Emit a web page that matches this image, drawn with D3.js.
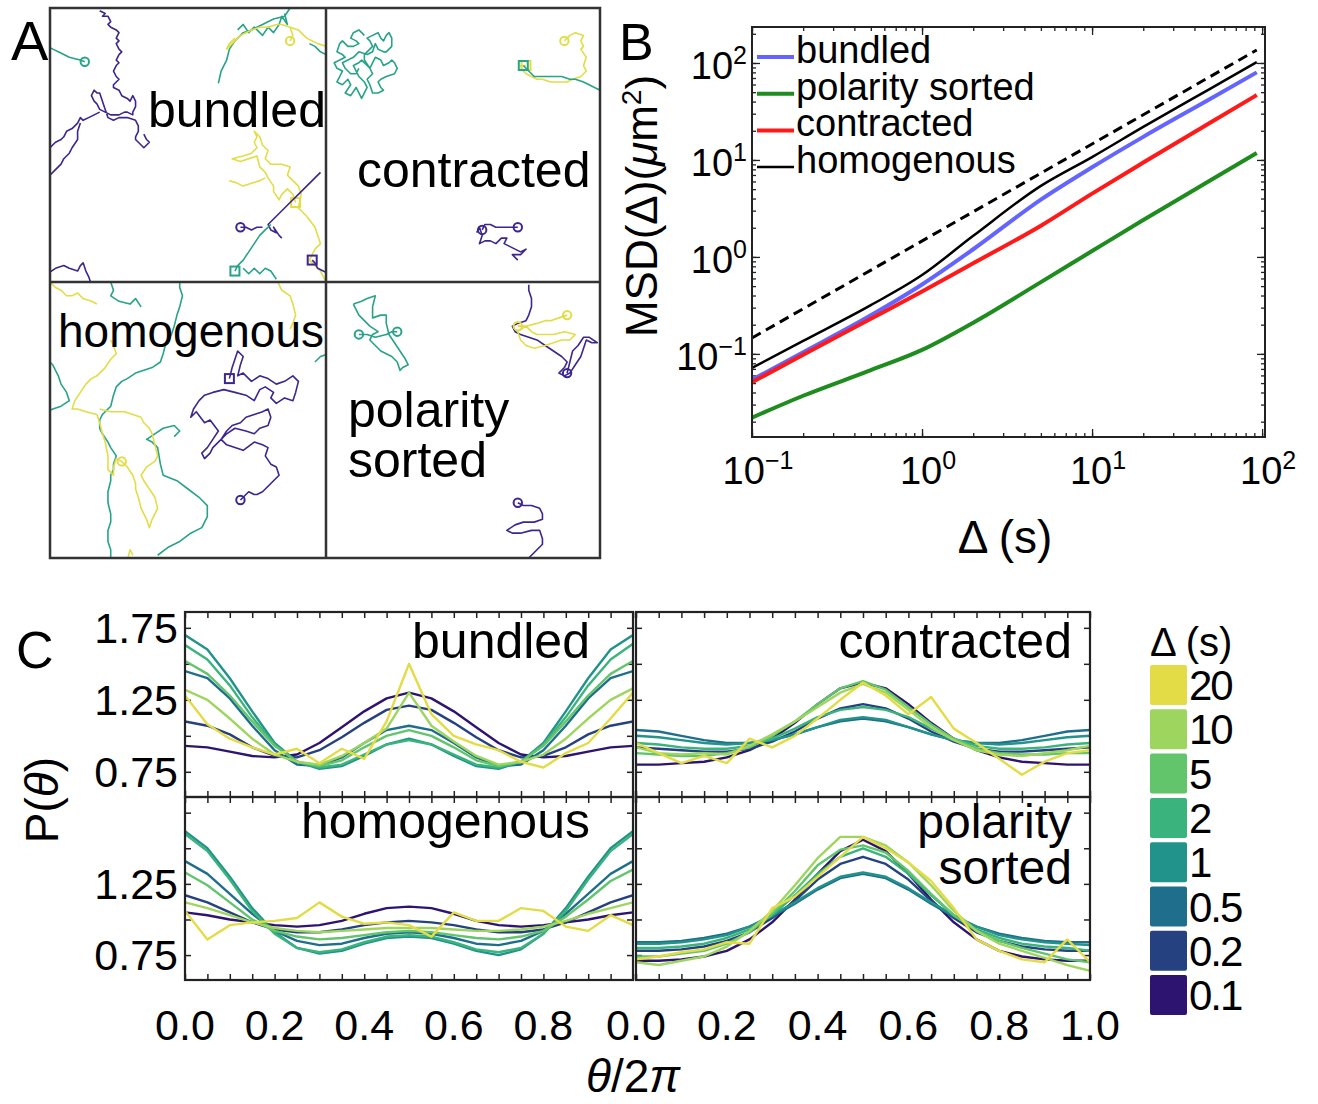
<!DOCTYPE html>
<html>
<head>
<meta charset="utf-8">
<script src="https://cdn.jsdelivr.net/npm/d3@7"></script>
<style>
body { margin: 0; background: #fff; }
text { font-family: "Liberation Sans", Arial, sans-serif; fill: #000; }
</style>
</head>
<body>
<script>
// ---------- panel A : trajectories (box units 0..100, y down) ----------
// g: 0 = short lag, 1 = mid, 2 = long ; start/end = marker at that end
const bundledTracks = [
  {g: 0, pts: [[18,1],[20,2],[19,3],[21,3],[22,5],[21,6],[22,7],[24,8],[25,9],[24,11],[25,12],[24,13],[25,15],[26,16],[25,17],[24,19],[25,20],[24,21],[23,23],[24,25],[25,26],[23,28],[23,29],[25,30],[26,32],[28,33],[29,34],[30,32],[31,34],[31,36],[30,38],[30,39],[28,38],[27,38],[25,39],[22,39],[20,38],[18,37],[17,35],[16,34],[15,32],[16,30],[17,31],[18,31],[19,34],[20,37],[21,40],[23,41],[25,40],[28,40],[31,41],[32,43],[32,45],[31,47],[31,48],[33,50],[34,51],[36,49],[35,48],[34,46]]},
  {g: 0, pts: [[18,38],[16,39],[14,40],[12,41],[11,40],[10,42],[9,43],[8,44],[6,45],[5,47],[4,48],[2,49],[0,51]]},
  {g: 0, pts: [[-1,62],[2,59],[4,57],[5,55],[7,53],[8,51],[10,48],[10,45],[11,42]]},
  {g: 0, pts: [[-1,97],[2,95],[5,94],[7,95],[10,96],[11,94],[12,93],[13,96],[14,98],[15,101]]},
  {g: 1, start: 'o', pts: [[12.6,19.6],[11,19],[9,18.5],[7,18],[5,17],[3,16],[1,15],[-1,14]]},
  {g: 1, pts: [[61,27.5],[62,23],[64,19],[65,15],[67,12],[70,9],[73,8],[77,6],[81,4],[85,3],[87,0],[88,-2]]},
  {g: 1, pts: [[68,8],[70,6],[72,9],[74,7],[77,10],[79,7],[81,9],[83,6],[84,3],[86,6],[85,2]]},
  {g: 1, pts: [[94,13],[96,14],[98,16],[100,17],[102,18]]},
  {g: 2, start: 'o', pts: [[87,12],[88,10],[87,7],[84,6],[82,6],[79,7],[76,7],[73,8],[71,9],[69,10],[67,12],[65,14],[64,15],[65,13],[67,11]]},
  {g: 2, pts: [[87,7],[90,8],[91,9],[93,11],[95,12],[97,13],[100,14],[102,15]]},
  {g: 2, start: 's', pts: [[89,71],[88,68],[86,66],[84,68],[83,70],[81,67],[81,65],[79,62],[78,60],[76,58],[75,54],[72,55],[69,56],[66,55],[70,54],[73,53],[75,51],[74,49],[75,47],[74,45],[76,47],[77,50],[79,52],[78,55],[80,57],[84,57],[87,58],[86,61],[88,63],[90,65],[91,68],[90,73],[93,76],[96,80],[97,83],[98,86],[96,88],[94,92],[96,94],[98,96],[100,100]]},
  {g: 2, pts: [[65,63],[68,64],[70,65],[73,64],[76,63],[78,62]]},
  {g: 0, start: 'o', pts: [[69,80],[71,80],[73,81],[75,80],[77,80]]},
  {g: 0, pts: [[98,60],[96,62],[93,65],[90,68],[87,71],[84,74],[81,77],[79,79],[80,81],[82,82],[81,80],[83,83],[84,84]]},
  {g: 0, start: 's', pts: [[95,92],[96,93],[97,95],[99,96],[101,97]]},
  {g: 1, start: 's', pts: [[67,96],[68,94],[70,92],[72,89],[74,86],[76,83],[78,81],[80,79]]},
  {g: 1, pts: [[70,95],[72,97],[74,95],[76,97],[78,95],[80,96],[82,99]]}
];

const contractedTracks = [
  {g: 1, pts: [[14,10],[12,8],[10,9],[9,11],[11,12],[12,13],[10,14],[8,14],[6,12],[5,13],[4,16],[6,17],[7,18],[5,19],[3,20],[4,22],[6,23],[5,25],[4,27],[6,28],[8,26],[9,28],[7,31],[9,32],[11,29],[12,31],[13,33],[14,31],[15,29],[14,27],[12,25],[11,23],[10,21],[12,20],[13,19],[15,21],[16,22],[17,20],[18,18],[20,19],[21,21],[23,20],[24,19],[25,20],[26,22],[25,24],[22,25],[20,26],[19,27],[20,29],[21,30],[19,31],[17,31],[16,28],[15,26],[17,24],[16,22],[14,19],[14,17],[16,15],[17,14],[16,12],[15,11],[17,10],[19,9],[20,11],[21,12],[22,10],[23,9],[24,11],[24,14],[22,16],[21,16],[19,15],[18,13],[17,16],[15,17],[12,16],[11,17],[10,18],[8,19],[6,20],[7,22],[9,24],[11,24],[12,22]]},
  {g: 2, start: 'o', end: 's', pts: [[87,12],[89,10],[91,9],[94,10],[93,12],[94,14],[93,15],[95,18],[94,21],[95,23],[93,25],[90,26],[88,27],[85,27],[82,27],[79,26],[77,26],[75,25],[73,24],[72,23],[71,21],[73,21]]},
  {g: 1, start: 's', pts: [[72,21],[74,23],[76,25],[79,25],[83,25],[86,25],[89,26],[91,26],[94,27],[96,28],[98,29],[100,30],[102,31]]},
  {g: 0, start: 'o', end: 'o', pts: [[57,81],[58,79],[60,79],[62,80],[64,80],[66,80],[68,80],[70,80]]},
  {g: 0, pts: [[55,82],[56,80],[57,83],[56,86],[58,85],[60,85],[62,86],[64,84],[66,84],[65,86],[67,87],[69,88],[71,89],[73,88],[71,90],[68,90],[70,92]]}
];

const homogenousTracks = [
  {g: 1, pts: [[47,-1],[47,2],[48,5],[47,9],[46,12],[45,16],[44,19],[42,22],[41,26],[40,29],[37,31],[34,32],[31,33],[28,35],[26,36],[24,38],[23,41],[22,45],[20,47],[19,48],[18,50],[18,53],[19,55],[21,58],[22,60],[24,63],[23,66],[23,68],[22,70],[22,72],[21,76],[21,80],[22,84],[22,87],[21,90],[21,94],[22,97],[22,101]]},
  {g: 1, pts: [[39,99],[43,96],[47,94],[51,91],[55,89],[57,85],[57,81],[54,78],[50,75],[46,72],[41,70],[40,66],[39,60],[37,58],[35,57],[38,55],[41,53],[45,52],[47,54],[45,56]]},
  {g: 1, pts: [[-1,28],[1,30],[3,34],[4,37],[6,40],[7,43],[4,45],[1,46],[-1,47]]},
  {g: 1, pts: [[22,0],[23,3],[22,5],[25,7],[29,8],[31,6],[33,9]]},
  {g: 1, pts: [[96,29],[98,27],[101,26]]},
  {g: 0, start: 's', end: 'o', pts: [[65,35],[66,31],[67,28],[68,25],[70,27],[69,30],[68,34],[70,33],[73,36],[76,34],[79,35],[82,37],[85,36],[88,34],[90,36],[89,40],[88,43],[85,42],[82,44],[80,42],[81,40],[78,38],[76,39],[75,41],[74,43],[71,41],[67,40],[63,39],[59,40],[56,41],[54,43],[52,46],[51,49],[53,47],[56,51],[58,50],[61,54],[59,57],[57,60],[55,62],[56,64],[58,62],[59,60],[62,57],[64,54],[66,52],[69,51],[71,49],[74,48],[77,47],[79,46],[80,49],[79,52],[76,53],[74,55],[71,54],[67,53],[64,55],[62,57],[64,59],[67,60],[70,61],[74,58],[77,59],[79,60],[78,63],[80,66],[82,67],[83,70],[81,72],[79,74],[77,76],[75,77],[74,77],[72,76],[70,78],[69,79]]},
  {g: 2, start: 'o', pts: [[26,65],[24,64],[23,67],[23,70],[21,68],[21,63],[20,58],[19,55],[18,51],[17,48],[13,47],[10,46],[8,46],[9,43],[11,40],[13,37],[15,35],[17,34],[20,31],[22,28],[24,26],[23,23],[22,21]]},
  {g: 2, pts: [[26,65],[28,67],[30,70],[31,73],[31,75],[32,78],[33,82],[35,86],[36,89],[37,86],[39,82],[38,78],[36,75],[34,72],[33,70],[35,67],[38,65],[39,63],[38,59],[37,55],[36,53],[34,51],[33,49],[30,48],[27,47],[25,47],[22,47],[18,46]]},
  {g: 2, pts: [[0,0],[2,2],[4,3],[6,5],[8,5],[10,4],[12,6],[15,7],[17,8]]},
  {g: 2, pts: [[82,-1],[84,3],[87,5],[88,8],[89,12],[88,15],[87,17]]},
  {g: 2, pts: [[28,101],[29,97],[30,99]]}
];

const sortedTracks = [
  {g: 1, start: 'o', end: 'o', pts: [[12,19],[15,19],[18,20],[22,19],[24,18],[26,18]]},
  {g: 1, pts: [[10,8],[13,7],[15,6],[18,5],[17,9],[17,13],[20,12],[22,12],[22,15],[23,19],[25,22],[27,25],[29,28],[30,30],[28,31],[27,32],[26,29],[24,27],[22,26],[20,25],[18,23],[16,21],[17,19],[19,18],[16,16],[14,14],[12,12],[11,10],[10,8]]},
  {g: 0, end: 'o', pts: [[74,1],[74,3],[75,6],[75,9],[74,12],[73,14],[70,15],[68,16],[69,18],[71,19],[74,20],[77,21],[80,23],[83,25],[86,27],[88,29],[87,31],[85,33],[87,34],[89,33],[91,30],[93,27],[94,24],[95,21],[97,22],[99,22],[96,20],[94,20],[92,23],[90,25],[89,29],[88,33]]},
  {g: 2, start: 'o', end: 'o', pts: [[70,16],[73,16],[75,18],[77,19],[80,19],[83,19],[87,18],[91,19],[89,21],[86,21],[83,22],[80,23],[76,24],[73,23],[71,21],[70,18],[73,16],[77,15],[80,14],[82,14],[85,13],[88,12]]},
  {g: 0, start: 'o', pts: [[70,80],[72,81],[75,81],[78,82],[79,84],[79,86],[76,87],[72,87],[69,88],[66,90],[68,91],[71,91],[75,90],[78,90],[79,93],[79,95],[77,97],[76,98],[74,100],[74,102]]}
];

// ---------- panel B : MSD ----------
const msdDelta      = [0.1, 0.2, 0.5, 1, 2, 5, 10, 20, 50, 93];
const msdBundled    = [0.054, 0.104, 0.25, 0.52, 1.2, 3.9, 8.4, 17.3, 43, 80];
const msdSorted     = [0.022, 0.037, 0.068, 0.11, 0.21, 0.55, 1.15, 2.4, 6.2, 11.8];
const msdContracted = [0.051, 0.098, 0.23, 0.44, 0.86, 2.1, 4.5, 9.4, 24.5, 46.7];
const msdHomogenous = [0.0716, 0.136, 0.318, 0.65, 1.65, 5.4, 10.7, 21.9, 54.8, 102];
const refDelta = [0.1, 93];
const refMsd   = [0.146, 136];
const msdTicks = [0.1, 1, 10, 100];
const msdTickExp = ['\u22121', '0', '1', '2'];
const msdLegend = ['bundled', 'polarity sorted', 'contracted', 'homogenous'];

// ---------- panel C : angle distributions ----------
const thetaBins = [0, 0.05, 0.1, 0.15, 0.2, 0.25, 0.3, 0.35, 0.4, 0.45, 0.5, 0.55, 0.6, 0.65, 0.7, 0.75, 0.8, 0.85, 0.9, 0.95, 1];
const deltaLevels = ['0.1', '0.2', '0.5', '1', '2', '5', '10', '20'];
const pBundled = [
  [0.93,0.92,0.89,0.86,0.85,0.87,0.95,1.06,1.17,1.26,1.30,1.26,1.17,1.06,0.95,0.87,0.85,0.86,0.89,0.92,0.93],
  [1.10,1.07,1.01,0.92,0.86,0.85,0.90,0.99,1.09,1.18,1.21,1.18,1.09,0.99,0.90,0.85,0.86,0.92,1.01,1.07,1.10],
  [1.45,1.40,1.26,1.07,0.90,0.80,0.79,0.85,0.95,1.04,1.07,1.04,0.95,0.85,0.79,0.80,0.90,1.07,1.26,1.40,1.45],
  [1.70,1.60,1.40,1.17,0.95,0.82,0.77,0.79,0.86,0.94,0.98,0.94,0.86,0.79,0.77,0.82,0.95,1.17,1.40,1.60,1.70],
  [1.63,1.53,1.35,1.13,0.94,0.82,0.78,0.80,0.87,0.94,0.97,0.94,0.87,0.80,0.78,0.82,0.94,1.13,1.35,1.53,1.64],
  [1.52,1.43,1.28,1.10,0.93,0.82,0.79,0.83,0.92,1.00,1.04,1.00,0.92,0.83,0.79,0.82,0.93,1.10,1.28,1.43,1.52],
  [1.32,1.25,1.12,0.98,0.87,0.82,0.80,0.86,0.95,1.05,1.30,1.07,0.96,0.86,0.80,0.82,0.87,0.98,1.12,1.25,1.33],
  [1.28,1.08,0.98,0.92,0.87,0.91,0.81,0.91,0.84,1.10,1.50,1.15,1.00,0.94,0.90,0.82,0.78,0.88,0.95,1.12,1.30]
];
const pContracted = [
  [0.80,0.80,0.81,0.82,0.85,0.90,0.98,1.09,1.22,1.33,1.37,1.33,1.22,1.09,0.98,0.90,0.85,0.82,0.81,0.80,0.80],
  [0.92,0.91,0.90,0.89,0.89,0.91,0.96,1.03,1.12,1.19,1.22,1.19,1.12,1.03,0.96,0.91,0.89,0.89,0.90,0.91,0.92],
  [1.04,1.03,1.00,0.97,0.95,0.95,0.97,1.01,1.06,1.10,1.12,1.10,1.06,1.01,0.97,0.95,0.95,0.97,1.00,1.03,1.04],
  [1.00,0.99,0.97,0.95,0.94,0.95,0.97,1.01,1.06,1.11,1.13,1.11,1.06,1.01,0.97,0.95,0.94,0.95,0.97,0.99,1.00],
  [0.95,0.94,0.92,0.91,0.91,0.93,0.98,1.05,1.13,1.18,1.20,1.18,1.13,1.05,0.98,0.93,0.91,0.91,0.92,0.94,0.95],
  [0.88,0.87,0.86,0.86,0.88,0.92,1.00,1.10,1.22,1.33,1.38,1.32,1.20,1.08,0.98,0.91,0.88,0.87,0.87,0.88,0.88],
  [0.92,0.88,0.87,0.88,0.87,0.93,1.01,1.10,1.20,1.30,1.36,1.30,1.18,1.06,0.97,0.90,0.87,0.86,0.88,0.90,0.93],
  [0.95,0.88,0.81,0.86,0.81,0.98,0.92,1.00,1.12,1.25,1.37,1.28,1.15,1.27,1.05,0.95,0.84,0.73,0.82,0.88,0.90]
];
const pHomogenous = [
  [1.05,1.03,1.00,0.98,0.96,0.95,0.96,0.99,1.04,1.08,1.09,1.08,1.04,0.99,0.96,0.95,0.96,0.98,1.00,1.03,1.05],
  [1.17,1.12,1.05,0.98,0.93,0.91,0.91,0.93,0.96,0.98,0.99,0.98,0.96,0.93,0.91,0.91,0.93,0.98,1.05,1.12,1.17],
  [1.41,1.32,1.18,1.04,0.92,0.85,0.82,0.83,0.87,0.90,0.91,0.90,0.87,0.83,0.82,0.85,0.92,1.04,1.18,1.32,1.41],
  [1.62,1.50,1.30,1.08,0.91,0.80,0.76,0.78,0.83,0.87,0.88,0.87,0.83,0.78,0.75,0.79,0.90,1.08,1.30,1.50,1.62],
  [1.60,1.48,1.28,1.06,0.90,0.80,0.77,0.79,0.84,0.88,0.89,0.88,0.84,0.79,0.77,0.80,0.90,1.06,1.28,1.48,1.60],
  [1.33,1.24,1.12,1.00,0.92,0.88,0.86,0.87,0.89,0.91,0.92,0.91,0.89,0.87,0.86,0.88,0.92,1.02,1.14,1.27,1.35],
  [1.12,1.08,1.03,0.98,0.94,0.92,0.91,0.92,0.93,0.94,0.94,0.94,0.93,0.92,0.92,0.93,0.95,0.99,1.04,1.08,1.12],
  [1.06,0.86,0.96,0.98,0.99,1.01,1.12,1.02,0.97,0.98,0.96,0.88,1.05,0.99,0.99,1.08,1.06,0.95,0.92,1.03,0.96]
];
const pSorted = [
  [0.71,0.71,0.72,0.74,0.78,0.86,0.98,1.14,1.32,1.48,1.56,1.48,1.32,1.14,0.98,0.86,0.78,0.74,0.72,0.71,0.71],
  [0.78,0.78,0.79,0.81,0.85,0.91,1.01,1.13,1.28,1.39,1.44,1.39,1.28,1.13,1.01,0.91,0.85,0.81,0.79,0.78,0.78],
  [0.84,0.84,0.85,0.87,0.90,0.95,1.02,1.11,1.21,1.29,1.32,1.29,1.21,1.11,1.02,0.95,0.90,0.87,0.85,0.84,0.84],
  [0.83,0.83,0.84,0.86,0.89,0.95,1.03,1.12,1.22,1.30,1.33,1.30,1.22,1.12,1.03,0.95,0.89,0.86,0.84,0.83,0.82],
  [0.80,0.80,0.81,0.83,0.87,0.93,1.03,1.17,1.32,1.44,1.50,1.44,1.32,1.17,1.03,0.93,0.87,0.83,0.81,0.80,0.78],
  [0.74,0.74,0.76,0.78,0.83,0.91,1.04,1.20,1.38,1.49,1.52,1.47,1.34,1.18,1.03,0.92,0.85,0.80,0.76,0.72,0.70],
  [0.70,0.68,0.71,0.74,0.81,0.92,1.06,1.24,1.43,1.58,1.58,1.52,1.40,1.24,1.06,0.92,0.83,0.78,0.73,0.68,0.64],
  [0.72,0.74,0.77,0.79,0.84,0.83,1.08,1.16,1.30,1.44,1.58,1.50,1.40,1.27,1.08,0.86,0.78,0.72,0.70,0.86,0.70]
];
const thetaTickLabels = ['0.0', '0.2', '0.4', '0.6', '0.8', '1.0'];
const pTickValues = [0.75, 1.25, 1.75];

// ---------- styles ----------
const trackColors = ['#3c2690', '#27a387', '#e2dd47'];
const deltaColors = ['#2d1470', '#25417f', '#1f6e8c', '#22938a', '#3ab37c', '#62c46b', '#9ed55f', '#e4dc46'];
const msdColors = {bundled: '#6464ff', sorted: '#1e8c1e', contracted: '#ff1a1a', homogenous: '#000'};

const svg = d3.select('body').append('svg')
    .attr('width', 1318)
    .attr('height', 1104)
    .style('background', '#fff');

const defs = svg.append('defs');

// ================= PANEL A =================
const aBoxes = [
  {tracks: bundledTracks, x: [50, 326], y: [8, 282]},
  {tracks: contractedTracks, x: [326, 600], y: [8, 282]},
  {tracks: homogenousTracks, x: [50, 326], y: [282, 558]},
  {tracks: sortedTracks, x: [326, 600], y: [282, 558]}
];

aBoxes.forEach(function (box, i) {
    var sx = d3.scaleLinear().domain([0, 100]).range(box.x),
        sy = d3.scaleLinear().domain([0, 100]).range(box.y);

    defs.append('clipPath').attr('id', 'clipA' + i)
        .append('rect')
        .attr('x', box.x[0]).attr('y', box.y[0])
        .attr('width', box.x[1] - box.x[0]).attr('height', box.y[1] - box.y[0]);

    var g = svg.append('g').attr('clip-path', 'url(#clipA' + i + ')');
    var line = d3.line().x(d => sx(d[0])).y(d => sy(d[1]));

    box.tracks.forEach(function (t) {
        var col = trackColors[t.g];
        g.append('path')
            .attr('d', line(t.pts))
            .attr('fill', 'none')
            .attr('stroke', col)
            .attr('stroke-width', 1.6)
            .attr('stroke-linejoin', 'round');

        [['start', t.pts[0]], ['end', t.pts[t.pts.length - 1]]].forEach(function (m) {
            var kind = t[m[0]];
            if (!kind) return;
            var cx = sx(m[1][0]), cy = sy(m[1][1]);
            if (kind === 'o') {
                g.append('circle').attr('cx', cx).attr('cy', cy).attr('r', 4.2)
                    .attr('fill', 'none').attr('stroke', col).attr('stroke-width', 2);
            } else {
                g.append('rect').attr('x', cx - 4.5).attr('y', cy - 4.5)
                    .attr('width', 9).attr('height', 9)
                    .attr('fill', 'none').attr('stroke', col).attr('stroke-width', 2);
            }
        });
    });
});

// frame of panel A
svg.append('rect').attr('x', 50).attr('y', 8).attr('width', 550).attr('height', 550)
    .attr('fill', 'none').attr('stroke', '#333').attr('stroke-width', 2.5);
svg.append('line').attr('x1', 326).attr('x2', 326).attr('y1', 8).attr('y2', 558)
    .attr('stroke', '#333').attr('stroke-width', 2.5);
svg.append('line').attr('x1', 50).attr('x2', 600).attr('y1', 282).attr('y2', 282)
    .attr('stroke', '#333').attr('stroke-width', 2.5);

function label(x, y, str, size, anchor) {
    return svg.append('text').attr('x', x).attr('y', y)
        .attr('text-anchor', anchor || 'start')
        .style('font-size', size + 'px')
        .text(str);
}

label(148, 127, 'bundled', 50);
label(357, 187, 'contracted', 50);
label(58, 347, 'homogenous', 46);
label(348, 427, 'polarity', 50);
label(348, 477, 'sorted', 50);

label(11, 60, 'A', 56);
label(619, 60, 'B', 52);
label(16, 668, 'C', 52);

// ================= PANEL B =================
const bx = d3.scaleLog().domain([0.1, 104]).range([752, 1265]);
const by = d3.scaleLog().domain([0.0139, 235]).range([437, 27]);

defs.append('clipPath').attr('id', 'clipB')
    .append('rect').attr('x', 752).attr('y', 27).attr('width', 513).attr('height', 410);

var gB = svg.append('g');
var minorX = [], minorY = [];
[0.1, 1, 10].forEach(function (d) { for (var k = 1; k < 10; k++) minorX.push(d * k); });
minorX.push(100);
[0.01, 0.1, 1, 10, 100].forEach(function (d) { for (var k = 1; k < 10; k++) if (d * k > 0.0139 && d * k < 235) minorY.push(d * k); });

function tickAxis(axis, transform) {
    var a = gB.append('g').attr('transform', transform).call(axis);
    a.select('.domain').remove();
    a.selectAll('line').attr('stroke', '#222').attr('stroke-width', 1.3);
    return a;
}
tickAxis(d3.axisBottom(bx).tickValues(minorX).tickSize(-4).tickFormat(''), 'translate(0,437)');
tickAxis(d3.axisTop(bx).tickValues(minorX).tickSize(-4).tickFormat(''), 'translate(0,27)');
tickAxis(d3.axisBottom(bx).tickValues(msdTicks).tickSize(-8).tickFormat(''), 'translate(0,437)');
tickAxis(d3.axisTop(bx).tickValues(msdTicks).tickSize(-8).tickFormat(''), 'translate(0,27)');
tickAxis(d3.axisLeft(by).tickValues(minorY).tickSize(-4).tickFormat(''), 'translate(752,0)');
tickAxis(d3.axisRight(by).tickValues(minorY).tickSize(-4).tickFormat(''), 'translate(1265,0)');
tickAxis(d3.axisLeft(by).tickValues(msdTicks).tickSize(-8).tickFormat(''), 'translate(752,0)');
tickAxis(d3.axisRight(by).tickValues(msdTicks).tickSize(-8).tickFormat(''), 'translate(1265,0)');

var msdSeries = [
  {key: 'bundled', vals: msdBundled, w: 4},
  {key: 'sorted', vals: msdSorted, w: 4},
  {key: 'contracted', vals: msdContracted, w: 4},
  {key: 'homogenous', vals: msdHomogenous, w: 2.5}
];
var msdLine = d3.line().x(d => bx(d[0])).y(d => by(d[1])).curve(d3.curveMonotoneX);
var gCurves = gB.append('g').attr('clip-path', 'url(#clipB)');
msdSeries.forEach(function (s) {
    gCurves.append('path')
        .attr('d', msdLine(msdDelta.map((d, i) => [d, s.vals[i]])))
        .attr('fill', 'none')
        .attr('stroke', msdColors[s.key])
        .attr('stroke-width', s.w);
});
gCurves.append('path')
    .attr('d', msdLine(refDelta.map((d, i) => [d, refMsd[i]])))
    .attr('fill', 'none').attr('stroke', '#000')
    .attr('stroke-width', 3).attr('stroke-dasharray', '10,6');

gB.append('rect').attr('x', 752).attr('y', 27).attr('width', 513).attr('height', 410)
    .attr('fill', 'none').attr('stroke', '#222').attr('stroke-width', 2);

// legend
var legKeys = ['bundled', 'sorted', 'contracted', 'homogenous'];
msdLegend.forEach(function (name, i) {
    var y = 57 + i * 36.7;
    gB.append('line').attr('x1', 757).attr('x2', 794).attr('y1', y).attr('y2', y)
        .attr('stroke', msdColors[legKeys[i]])
        .attr('stroke-width', legKeys[i] === 'homogenous' ? 2.5 : 4);
    gB.append('text').attr('x', 796).attr('y', y + 6)
        .style('font-size', '38px').text(name);
});

// tick labels with exponents
function powLabel(x, y, exp, anchor) {
    var t = gB.append('text').attr('x', x).attr('y', y)
        .attr('text-anchor', anchor).style('font-size', '38px');
    t.append('tspan').text('10');
    t.append('tspan').attr('dy', -15).style('font-size', '25px').text(exp);
}
msdTicks.forEach(function (v, i) {
    powLabel(bx(v) + 6, 484, msdTickExp[i], 'middle');
    powLabel(747, by(v) + 16, msdTickExp[i], 'end');
});

// axis titles
var yt = gB.append('text').attr('transform', 'translate(657,206) rotate(-90)')
    .attr('text-anchor', 'middle').style('font-size', '44px');
yt.append('tspan').text('MSD(\u0394)(');
yt.append('tspan').style('font-style', 'italic').text('\u03bc');
yt.append('tspan').text('m');
yt.append('tspan').attr('dy', -16).style('font-size', '28px').text('2');
yt.append('tspan').attr('dy', 16).text(')');

gB.append('text').attr('x', 1005).attr('y', 553).attr('text-anchor', 'middle')
    .style('font-size', '46px').text('\u0394 (s)');

// ================= PANEL C =================
const cCols = [[185, 633], [636, 1090]];
const cRows = [[612, 797], [797, 980]];
const cPanels = [
  {vals: pBundled, c: 0, r: 0, text: ['bundled']},
  {vals: pContracted, c: 1, r: 0, text: ['contracted']},
  {vals: pHomogenous, c: 0, r: 1, text: ['homogenous']},
  {vals: pSorted, c: 1, r: 1, text: ['polarity', 'sorted']}
];
const thetaTicks = thetaBins;
const pTicks = [0.75, 1.0, 1.25, 1.5, 1.75];

cPanels.forEach(function (p, pi) {
    var xr = cCols[p.c], yr = cRows[p.r];
    var sx = d3.scaleLinear().domain([0, 1]).range(xr);
    var sy = d3.scaleLinear().domain([0.575, 1.86]).range([yr[1], yr[0]]);
    var g = svg.append('g');

    defs.append('clipPath').attr('id', 'clipC' + pi)
        .append('rect').attr('x', xr[0]).attr('y', yr[0])
        .attr('width', xr[1] - xr[0]).attr('height', yr[1] - yr[0]);

    function ax(axis, tr) {
        var a = g.append('g').attr('transform', tr).call(axis);
        a.select('.domain').remove();
        a.selectAll('line').attr('stroke', '#222').attr('stroke-width', 1.5);
    }
    ax(d3.axisBottom(sx).tickValues(thetaTicks).tickSize(-6).tickFormat(''), 'translate(0,' + yr[1] + ')');
    ax(d3.axisTop(sx).tickValues(thetaTicks).tickSize(-6).tickFormat(''), 'translate(0,' + yr[0] + ')');
    ax(d3.axisLeft(sy).tickValues(pTicks).tickSize(-6).tickFormat(''), 'translate(' + xr[0] + ',0)');
    ax(d3.axisRight(sy).tickValues(pTicks).tickSize(-6).tickFormat(''), 'translate(' + xr[1] + ',0)');

    var line = d3.line().x((d, i) => sx(thetaBins[i])).y(d => sy(d));
    var gl = g.append('g').attr('clip-path', 'url(#clipC' + pi + ')');
    p.vals.forEach(function (series, k) {
        gl.append('path').attr('d', line(series))
            .attr('fill', 'none')
            .attr('stroke', deltaColors[k])
            .attr('stroke-width', 2.4)
            .attr('stroke-linejoin', 'round');
    });

    g.append('rect').attr('x', xr[0]).attr('y', yr[0])
        .attr('width', xr[1] - xr[0]).attr('height', yr[1] - yr[0])
        .attr('fill', 'none').attr('stroke', '#222').attr('stroke-width', 2.2);

    p.text.forEach(function (t, j) {
        g.append('text').attr('x', p.c === 0 ? 590 : 1072)
            .attr('y', (p.r === 0 ? 658 : 838) + j * 46)
            .attr('text-anchor', 'end')
            .style('font-size', (p.text.length > 1 ? 48 : 50) + 'px').text(t);
    });

    // y tick labels on left column
    if (p.c === 0) {
        pTickValues.forEach(function (v) {
            if (p.r === 1 && v === 1.75) return;
            g.append('text').attr('x', 178).attr('y', sy(v) + 15)
                .attr('text-anchor', 'end').style('font-size', '43px')
                .text(v.toFixed(2));
        });
    }
    // x tick labels on bottom row
    if (p.r === 1) {
        thetaTickLabels.forEach(function (lab, j) {
            if (p.c === 0 && j === thetaTickLabels.length - 1) return;
            g.append('text').attr('x', sx(j * 0.2)).attr('y', 1040)
                .attr('text-anchor', 'middle').style('font-size', '43px')
                .text(lab);
        });
    }
});

// axis titles C
var pt = svg.append('text').attr('transform', 'translate(58,800) rotate(-90)')
    .attr('text-anchor', 'middle').style('font-size', '46px');
pt.append('tspan').text('P(');
pt.append('tspan').style('font-style', 'italic').text('\u03b8');
pt.append('tspan').text(')');

var tt = svg.append('text').attr('x', 633).attr('y', 1092)
    .attr('text-anchor', 'middle').style('font-size', '46px');
tt.append('tspan').style('font-style', 'italic').text('\u03b8');
tt.append('tspan').text('/2');
tt.append('tspan').style('font-style', 'italic').text('\u03c0');

// legend C
svg.append('text').attr('x', 1150).attr('y', 656).style('font-size', '40px').text('\u0394 (s)');
var legOrder = deltaLevels.slice().reverse();
legOrder.forEach(function (lev, i) {
    var k = deltaLevels.indexOf(lev);
    var y = 665 + i * 44.3;
    svg.append('rect').attr('x', 1150).attr('y', y).attr('width', 37).attr('height', 40)
        .attr('rx', 2).attr('fill', deltaColors[k]);
    svg.append('text').attr('x', 1189).attr('y', y + 35)
        .style('font-size', '42px').style('letter-spacing', '-2px').text(lev);
});
</script>
</body>
</html>
